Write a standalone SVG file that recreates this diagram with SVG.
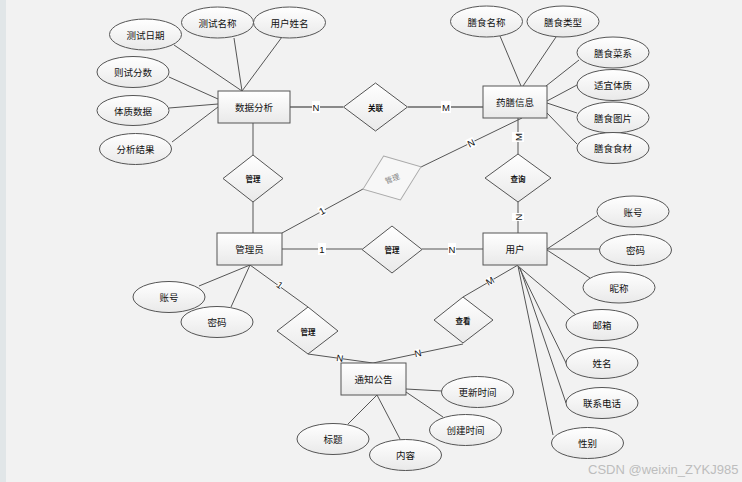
<svg xmlns="http://www.w3.org/2000/svg" width="742" height="482" viewBox="0 0 742 482">
<defs>
<linearGradient id="g" x1="0" y1="0" x2="0" y2="1">
<stop offset="0" stop-color="#ffffff"/>
<stop offset="1" stop-color="#e9e9e9"/>
</linearGradient>
<style>
.e{fill:url(#g);stroke:#555;stroke-width:1}
.r{fill:url(#g);stroke:#555;stroke-width:1}
.d{fill:url(#g);stroke:#555;stroke-width:1}
.dg{fill:#f7f7f7;stroke:#aaa;stroke-width:1}
.t{font-family:"Noto Sans CJK SC",sans-serif;font-size:9.5px;fill:#111;text-anchor:middle;dominant-baseline:central}
.tb{font-family:"Noto Sans CJK SC",sans-serif;font-size:7.5px;font-weight:bold;fill:#111;text-anchor:middle;dominant-baseline:central}
.a{stroke:#555;stroke-width:1;fill:none}
.l{stroke:#666;stroke-width:1.3;fill:none}
.c{font-family:"Liberation Sans",sans-serif;font-size:9.5px;fill:#111;text-anchor:middle;dominant-baseline:central}
.cb{fill:#fff}
</style>
</defs>
<rect x="0" y="0" width="742" height="482" fill="#f2f2f2"/>
<rect x="0" y="0" width="6" height="482" fill="#e1e6e8"/>

<g id="connectors">
<line class="a" x1="174" y1="45" x2="242" y2="91"/>
<line class="a" x1="234" y1="38" x2="242" y2="91"/>
<line class="a" x1="282" y1="37" x2="242" y2="91"/>
<line class="a" x1="169" y1="77" x2="218" y2="99"/>
<line class="a" x1="169" y1="108" x2="218" y2="104"/>
<line class="a" x1="172" y1="142" x2="218" y2="107"/>
<line class="a" x1="500" y1="36" x2="521" y2="86"/>
<line class="a" x1="556" y1="37" x2="523" y2="86"/>
<line class="a" x1="579" y1="60" x2="546" y2="86"/>
<line class="a" x1="577" y1="85" x2="547" y2="101"/>
<line class="a" x1="577" y1="113" x2="547" y2="103" stroke-width="1.5"/>
<line class="a" x1="577" y1="144" x2="547" y2="113"/>
<line class="a" x1="547" y1="249" x2="597" y2="216"/>
<line class="a" x1="547" y1="249" x2="599" y2="249"/>
<line class="a" x1="547" y1="250" x2="590" y2="278"/>
<line class="a" x1="518" y1="266" x2="576" y2="315"/>
<line class="a" x1="519" y1="267" x2="567" y2="365"/>
<line class="a" x1="520" y1="268" x2="566" y2="403"/>
<line class="a" x1="518" y1="266" x2="553" y2="435"/>
<line class="a" x1="250" y1="265" x2="199" y2="286"/>
<line class="a" x1="250" y1="265" x2="231" y2="307"/>
<line class="a" x1="377" y1="395" x2="348" y2="424"/>
<line class="a" x1="377" y1="395" x2="400" y2="439"/>
<line class="a" x1="406" y1="389" x2="442" y2="391"/>
<line class="a" x1="406" y1="392" x2="443" y2="417"/>
<line class="l" x1="290" y1="107" x2="343" y2="107"/>
<line class="l" x1="408" y1="107" x2="483" y2="107"/>
<line class="a" x1="253" y1="123" x2="253" y2="155"/>
<line class="a" x1="253" y1="202" x2="253" y2="233"/>
<line class="a" x1="282" y1="249" x2="362" y2="249"/>
<line class="a" x1="422" y1="249" x2="483" y2="249"/>
<line class="a" x1="518" y1="118" x2="518" y2="154"/>
<line class="a" x1="518" y1="202" x2="518" y2="233"/>
<line class="a" x1="522" y1="118" x2="421" y2="167"/>
<line class="a" x1="363" y1="189" x2="282" y2="233"/>
<line class="a" x1="518" y1="265" x2="463" y2="297"/>
<line class="a" x1="463" y1="344" x2="373" y2="363"/>
<line class="a" x1="250" y1="265" x2="308" y2="307"/>
<line class="a" x1="308" y1="354" x2="373" y2="363"/>
<rect class="cb" x="312" y="101" width="8" height="12"/><text class="c" x="316" y="107">N</text>
<rect class="cb" x="441" y="101" width="10" height="12"/><text class="c" x="446" y="107">M</text>
<rect class="cb" x="318" y="243" width="8" height="12"/><text class="c" x="322" y="249">1</text>
<rect class="cb" x="448" y="243" width="8" height="12"/><text class="c" x="452" y="249">N</text>
<g transform="translate(518,137) rotate(-90)"><rect class="cb" x="-5" y="-6" width="10" height="12"/><text class="c" x="0" y="0">M</text></g>
<g transform="translate(518,217) rotate(-90)"><rect class="cb" x="-4" y="-6" width="8" height="12"/><text class="c" x="0" y="0">N</text></g>
<g transform="translate(471,143) rotate(-26)"><rect class="cb" x="-4" y="-5" width="8" height="10"/><text class="c" x="0" y="0" font-size="8.5">N</text></g>
<g transform="translate(322,211) rotate(-28)"><rect class="cb" x="-3" y="-5" width="6" height="10"/><text class="c" x="0" y="0" font-size="8.5">1</text></g>
<g transform="translate(490,281) rotate(-30)"><rect class="cb" x="-4" y="-4" width="8" height="8"/><text class="c" x="0" y="0" font-size="7">M</text></g>
<g transform="translate(418,353) rotate(-12)"><rect class="cb" x="-3" y="-4" width="6" height="8"/><text class="c" x="0" y="0" font-size="7">N</text></g>
<g transform="translate(280,285) rotate(36)"><rect class="cb" x="-2" y="-4" width="4" height="8"/><text class="c" x="0" y="0" font-size="7">1</text></g>
<g transform="translate(340,358) rotate(8)"><rect class="cb" x="-3" y="-4" width="6" height="8"/><text class="c" x="0" y="0" font-size="7">N</text></g>
</g>

<g id="e-shuju"><rect class="r" x="218" y="91" width="72" height="32"/><text class="t" x="254" y="107">数据分析</text></g>
<g id="e-yaoshan"><rect class="r" x="483" y="86" width="64" height="32"/><text class="t" x="515" y="102">药膳信息</text></g>
<g id="e-guanliyuan"><rect class="r" x="217" y="233" width="65" height="32"/><text class="t" x="249.5" y="249">管理员</text></g>
<g id="e-yonghu"><rect class="r" x="483" y="233" width="64" height="32"/><text class="t" x="515" y="249">用户</text></g>
<g id="e-tongzhi"><rect class="r" x="341" y="363" width="65" height="32"/><text class="t" x="373.5" y="379">通知公告</text></g>

<g id="r-guanlian"><polygon class="d" points="375.5,83 407.5,107 375.5,131 343.5,107"/><text class="tb" x="375.5" y="107">关联</text></g>
<g id="r-guanli1"><polygon class="d" points="253,155 283,178.5 253,202 223,178.5"/><text class="tb" x="253" y="178.5">管理</text></g>
<g id="r-guanli2"><polygon class="d" points="392,226 422,249.5 392,273 362,249.5"/><text class="tb" x="392" y="249.5">管理</text></g>
<g id="r-guanli3" transform="translate(392,178) rotate(-21)"><polygon class="dg" points="0,-23.5 31,0 0,23.5 -31,0"/><text class="tb" x="0" y="0" style="fill:#888;font-weight:normal">管理</text></g>
<g id="r-chaxun"><polygon class="d" points="518,154 551,178 518,202 485,178"/><text class="tb" x="518" y="178">查询</text></g>
<g id="r-chakan"><polygon class="d" points="463,297 493,320 463,343 434,320"/><text class="tb" x="463" y="320">查看</text></g>
<g id="r-guanli4"><polygon class="d" points="308,307 338,331 308,354 277,331"/><text class="tb" x="308" y="331">管理</text></g>

<g id="a-ceshiriqi"><ellipse class="e" cx="145.5" cy="34.5" rx="36" ry="15.5"/><text class="t" x="145.5" y="34.5" font-size="11.5">测试日期</text></g>
<g id="a-ceshimingcheng"><ellipse class="e" cx="217.5" cy="22.5" rx="36" ry="15.5"/><text class="t" x="217.5" y="22.5">测试名称</text></g>
<g id="a-yonghuxingming"><ellipse class="e" cx="289.5" cy="22.5" rx="36" ry="15.5"/><text class="t" x="289.5" y="22.5">用户姓名</text></g>
<g id="a-ceshifenshu"><ellipse class="e" cx="133" cy="72" rx="36" ry="15.5"/><text class="t" x="133" y="72">则试分数</text></g>
<g id="a-tizhishuju"><ellipse class="e" cx="133" cy="110.5" rx="36" ry="15"/><text class="t" x="133" y="110.5">体质数据</text></g>
<g id="a-fenxijieguo"><ellipse class="e" cx="135.5" cy="149" rx="36" ry="15.5"/><text class="t" x="135.5" y="149">分析结果</text></g>

<g id="a-shanshimingcheng"><ellipse class="e" cx="486.5" cy="21.5" rx="36" ry="15.5"/><text class="t" x="486.5" y="21.5">膳食名称</text></g>
<g id="a-shanshileixing"><ellipse class="e" cx="563" cy="21.5" rx="36" ry="15.5"/><text class="t" x="563" y="21.5">膳食类型</text></g>
<g id="a-shanshicaixi"><ellipse class="e" cx="613" cy="52.5" rx="36" ry="15.5"/><text class="t" x="613" y="52.5">膳食菜系</text></g>
<g id="a-shiyitizhi"><ellipse class="e" cx="613" cy="85" rx="36" ry="15.5"/><text class="t" x="613" y="85">适宜体质</text></g>
<g id="a-shanshitupian"><ellipse class="e" cx="613" cy="117.5" rx="36" ry="15.5"/><text class="t" x="613" y="117.5">膳食图片</text></g>
<g id="a-shanshishicai"><ellipse class="e" cx="613" cy="148" rx="36" ry="15.5"/><text class="t" x="613" y="148">膳食食材</text></g>

<g id="a-u-zhanghao"><ellipse class="e" cx="633" cy="211.5" rx="36" ry="15.5"/><text class="t" x="633" y="211.5">账号</text></g>
<g id="a-u-mima"><ellipse class="e" cx="635.5" cy="250" rx="36" ry="15.5"/><text class="t" x="635.5" y="250">密码</text></g>
<g id="a-u-nicheng"><ellipse class="e" cx="619" cy="287.5" rx="36" ry="15.5"/><text class="t" x="619" y="287.5">昵称</text></g>
<g id="a-u-youxiang"><ellipse class="e" cx="602" cy="325" rx="36" ry="15.5"/><text class="t" x="602" y="325">邮箱</text></g>
<g id="a-u-xingming"><ellipse class="e" cx="602" cy="363" rx="36" ry="15.5"/><text class="t" x="602" y="363">姓名</text></g>
<g id="a-u-dianhua"><ellipse class="e" cx="602" cy="403" rx="36" ry="15.5"/><text class="t" x="602" y="403">联系电话</text></g>
<g id="a-u-xingbie"><ellipse class="e" cx="587.5" cy="443" rx="36" ry="15.5"/><text class="t" x="587.5" y="443">性别</text></g>

<g id="a-m-zhanghao"><ellipse class="e" cx="169" cy="297" rx="36" ry="15.5"/><text class="t" x="169" y="297">账号</text></g>
<g id="a-m-mima"><ellipse class="e" cx="217" cy="322" rx="36" ry="15.5"/><text class="t" x="217" y="322">密码</text></g>

<g id="a-gengxinshijian"><ellipse class="e" cx="477.5" cy="392" rx="36" ry="15.5"/><text class="t" x="477.5" y="392">更新时间</text></g>
<g id="a-chuangjianshijian"><ellipse class="e" cx="465.5" cy="430" rx="36" ry="15.5"/><text class="t" x="465.5" y="430">创建时间</text></g>
<g id="a-neirong"><ellipse class="e" cx="405.5" cy="455" rx="36" ry="15.5"/><text class="t" x="405.5" y="455">内容</text></g>
<g id="a-biaoti"><ellipse class="e" cx="333" cy="439" rx="36" ry="15.5"/><text class="t" x="333" y="439">标题</text></g>

<text x="588" y="474" font-family="Liberation Sans, sans-serif" font-size="13" fill="#bdbdbd">CSDN @weixin_ZYKJ985</text>
</svg>
